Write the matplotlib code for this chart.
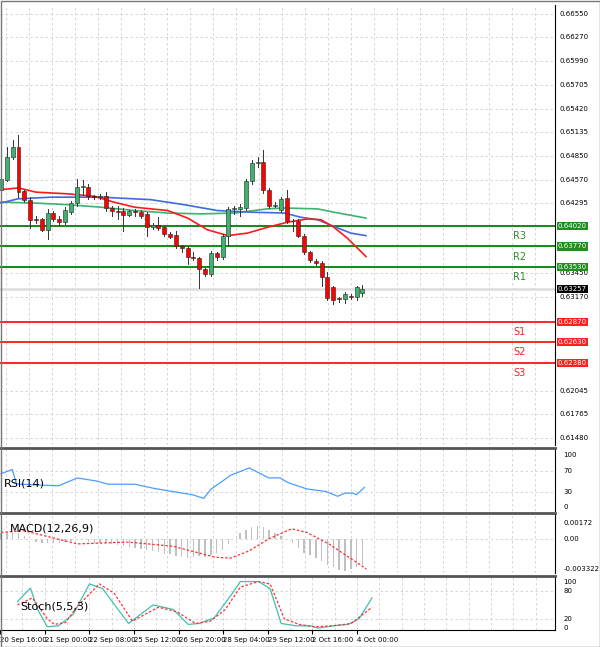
import numpy as np
import matplotlib.pyplot as plt
from matplotlib.patches import Rectangle

# candles: open, high, low, close
OPEN = [.6445, .6457, .6484, .6496, .6443, .6433, .6410, .6410, .6397, .6417,
        .6410, .6406, .6418, .6429, .6448, .6448, .6437, .6436, .6437, .6423,
        .6419, .6419, .6415, .6419, .6418, .6416, .6400, .6403, .6400, .6392,
        .6391, .6378, .6375, .6364, .6363, .6350, .6344, .6369, .6364, .6390,
        .6422, .6422, .6423, .6455, .6477, .6478, .6445, .6426, .6421, .6435,
        .6408, .6408, .6390, .6370, .6360, .6357, .6340, .6328, .6315, .6314,
        .6318, .6317, .6321]
HIGH = [.6447, .6496, .6504, .6510, .6445, .6436, .6414, .6411, .6422, .6420,
        .6413, .6424, .6431, .6458, .6456, .6452, .6439, .6440, .6442, .6425,
        .6426, .6423, .6421, .6422, .6421, .6418, .6405, .6412, .6402, .6394,
        .6396, .6379, .6377, .6370, .6364, .6351, .6372, .6371, .6392, .6424,
        .6426, .6428, .6458, .6480, .6484, .6492, .6447, .6430, .6436, .6444,
        .6410, .6410, .6392, .6372, .6362, .6360, .6346, .6330, .6317, .6322,
        .6320, .6330, .6331]
LOW = [.6442, .6455, .6482, .6436, .6430, .6399, .6405, .6396, .6386, .6408,
       .6403, .6404, .6416, .6426, .6438, .6434, .6434, .6434, .6420, .6413,
       .6410, .6396, .6413, .6413, .6411, .6389, .6398, .6397, .6390, .6387,
       .6375, .6370, .6356, .6361, .6327, .6342, .6342, .6361, .6362, .6378,
       .6416, .6414, .6421, .6452, .6472, .6441, .6423, .6424, .6418, .6405,
       .6395, .6388, .6368, .6358, .6355, .6330, .6313, .6308, .6311, .6310,
       .6314, .6313, .6318]
CLOSE = [.6458, .6484, .6496, .6442, .6433, .6409, .6409, .6397, .6417, .6410,
         .6406, .6421, .6429, .6448, .6449, .6437, .6436, .6437, .6423, .6419,
         .6418, .6415, .6419, .6418, .6414, .6400, .6403, .6399, .6392, .6388,
         .6377, .6375, .6364, .6363, .6350, .6344, .6369, .6364, .6390, .6422,
         .6423, .6424, .6455, .6477, .6478, .6445, .6425, .6427, .6434, .6407,
         .6407, .6390, .6370, .6361, .6357, .6340, .6315, .6313, .6314, .6320,
         .6317, .6328, .6326]

# moving averages read at candle positions
MA_RED_X = [0, 3, 6, 11.4, 16, 19.4, 22.9, 28.6, 32, 35.4, 38.9, 42.3, 45.7, 49.1, 52.6, 54.9, 57.1, 59.4, 62.6]
MA_RED_Y = [.6445, .6447, .6442, .6440, .6437, .6430, .6424, .6420, .6411, .6397, .6390, .6393, .6400, .6406, .6410, .6409, .6400, .6387, .6365]
MA_BLUE_X = [0, 2.9, 8.6, 17.1, 25.7, 31.4, 37.1, 42.9, 48.6, 51.4, 54.3, 57.1, 60, 62.6]
MA_BLUE_Y = [.6429, .6434, .6436, .6436, .6433, .6427, .6420, .6418, .6417, .6412, .6409, .6401, .6393, .6390]
MA_GRN_X = [0, 5.7, 11.4, 17.1, 22.9, 28.6, 34.3, 40, 45.7, 48.6, 54.3, 57.1, 62.6]
MA_GRN_Y = [.6430, .6429, .6427, .6424, .6420, .6417, .6416, .6417, .6422, .6423, .6422, .6418, .6411]

R_LEVELS = [0.64020, 0.63770, 0.63530]
R_NAMES = ['R3', 'R2', 'R1']
S_LEVELS = [0.62870, 0.62630, 0.62380]
S_NAMES = ['S1', 'S2', 'S3']
LAST = 0.63257
PRICE_TICKS = [0.66550, 0.66270, 0.65990, 0.65705, 0.65420, 0.65135, 0.64850,
               0.64570, 0.64295, 0.63450, 0.63170,
               0.62045, 0.61765, 0.61480]

RSI_X = [0, 1.95, 2.64, 3.33, 9.87, 13.09, 16.42, 18.37, 22.96, 26.29, 29.5, 32.83, 34.78,
         36.05, 38.0, 39.38, 42.59, 45.92, 47.87, 49.25, 52.46, 55.79, 57.74, 59.0, 60.38,
         60.96, 62.34]
RSI_Y = [64, 72, 45, 44, 41, 56, 50, 44, 44, 36, 30, 24, 17, 35, 50, 61, 75, 56, 56,
         47, 35, 30, 21, 27, 27, 24, 38]

MACD_HIST = [0.0006, 0.0007, 0.0008, 0.0006, 0.0003, 0.0000, -0.0003, -0.0005, -0.0005, -0.0004,
             -0.0004, -0.0003, -0.0002, 0.0000, -0.0001, -0.0003, -0.0004, -0.0004, -0.0005, -0.0006,
             -0.0007, -0.0008, -0.0009, -0.0010, -0.0011, -0.0012, -0.0013, -0.0014, -0.0016, -0.0017,
             -0.0019, -0.0020, -0.0021, -0.0020, -0.0019, -0.0020, -0.0018, -0.0015, -0.0012, -0.0006,
             0.0000, 0.0006, 0.0010, 0.0013, 0.0014, 0.0013, 0.0010, 0.0006, 0.0003, 0.0000,
             -0.0005, -0.0010, -0.0015, -0.0018, -0.0021, -0.0024, -0.0028, -0.0031, -0.0034, -0.0035,
             -0.0033, -0.0031, -0.0029]
SIG_X = [0, 3.9, 13.09, 21.7, 29.5, 36.74, 39.38, 42.59, 45.92, 49.82, 52.46, 56.37, 60.38, 62.68]
SIG_Y = [0.0007, 0.0009, -0.00055, -0.00035, -0.0008, -0.0020, -0.0021, -0.0013, 0.0,
         0.0011, 0.0007, -0.0006, -0.0023, -0.0033]

ST_X = [0, 2.3, 3.56, 5.28, 7.23, 9.87, 12.74, 15.04, 19.63, 23.99, 27.55, 30.19, 32.14,
        34.78, 38.0, 39.38, 42.59, 44.66, 46.61, 49.25, 51.77, 53.15, 55.79, 58.43, 60.38, 62.68]
ST_Y = [57, 86, 40, 3, 5, 30, 95, 85, 10, 50, 40, 8, 10, 22, 75, 100, 100, 85, 10, 5,
        5, 0, 5, 8, 20, 65]
SS_X = [0, 2.64, 5.28, 6.54, 8.5, 10.45, 14.46, 17.1, 20.32, 24.91, 28.24, 31.46, 34.1,
        36.74, 39.38, 42.59, 44.66, 47.18, 49.82, 52.46, 55.79, 59.0, 62.68]
SS_Y = [50, 65, 20, 8, 12, 45, 95, 75, 15, 45, 35, 10, 15, 40, 88, 100, 95, 20, 8, 3,
        5, 10, 45]

XLABELS = ['20 Sep 16:00', '21 Sep 00:00', '22 Sep 08:00', '25 Sep 12:00', '26 Sep 20:00',
           '28 Sep 04:00', '29 Sep 12:00', '2 Oct 16:00', '4 Oct 00:00']

PX = 5.83  # pixels per candle
W, H = 600, 647
fig = plt.figure(figsize=(6.0, 6.47), dpi=100)
fig.patch.set_facecolor('white')


def px_axes(x0, y0, x1, y1):
    return fig.add_axes([x0 / W, 1 - y1 / H, (x1 - x0) / W, (y1 - y0) / H])


ax_left, ax_right = 0, 555
xlim = (-1 / PX, (ax_right - 1) / PX)
tick_px = [-17 + 46 * i for i in range(len(XLABELS))]
tick_x = [(p - 1) / PX for p in tick_px]
grid_x = [(p - 1) / PX for p in range(6, 560, 23)]

price_to_y = lambda p: 0.66718 - 0.0001196 * p
main = px_axes(ax_left, 5, ax_right, 445)
main.set_xlim(*xlim)
main.set_ylim(price_to_y(445), price_to_y(5))
rsi = px_axes(ax_left, 448, ax_right, 511)
macd = px_axes(ax_left, 513, ax_right, 573)
stoch = px_axes(ax_left, 576, ax_right, 630)
rsi.set_ylim(-7, 113)
macd.set_ylim(-0.00372, 0.00282)
stoch.set_ylim(-4, 112)

for ax in (main, rsi, macd, stoch):
    ax.set_xlim(*xlim)
    ax.set_xticks([])
    ax.set_yticks([])
    for s in ('left', 'top', 'bottom'):
        ax.spines[s].set_visible(False)
    ax.spines['right'].set_color('black')
    for g in grid_x:
        ax.axvline(g, color='#d0d0d0', lw=0.6, ls=(0, (3, 3)), zorder=0)
for ax in (rsi, macd, stoch):
    ax.spines['top'].set_visible(True)
    ax.spines['top'].set_color('#555555')
    ax.spines['top'].set_linewidth(2)

# main price grid and ticks
for p in PRICE_TICKS:
    main.axhline(p, color='#d0d0d0', lw=0.6, ls=(0, (3, 3)), zorder=0)
    main.text(1.008, p, '%.5f' % p, transform=main.get_yaxis_transform(),
              fontsize=5, va='center', ha='left')
main.axhline(LAST, color='#e0e0e0', lw=2, zorder=0)

# moving averages
main.plot(MA_GRN_X, MA_GRN_Y, color='#3cb371', lw=1.2, zorder=2)
main.plot(MA_BLUE_X, MA_BLUE_Y, color='#4169e1', lw=1.2, zorder=2)
main.plot(MA_RED_X, MA_RED_Y, color='#ff1a1a', lw=1.2, zorder=2)

# candles
bw = 0.68
for i, (o, h, l, c) in enumerate(zip(OPEN, HIGH, LOW, CLOSE)):
    main.plot([i, i], [l, h], color='#333333', lw=0.7, zorder=3)
    col = '#3cb371' if c >= o else '#ff0000'
    main.add_patch(Rectangle((i - bw / 2, min(o, c)), bw, max(abs(c - o), 0.00003),
                             facecolor=col, edgecolor='#222222', lw=0.4, zorder=4))

# levels
tr = main.get_yaxis_transform()
for lev in R_LEVELS:
    main.axhline(lev, color='#008000', lw=1.3, zorder=1)
    main.text(1.005, lev, '%.5f' % lev, transform=tr, fontsize=5, color='white', va='center',
              bbox=dict(boxstyle='square,pad=0.15', fc='#1f8f1f', ec='none'), zorder=6)
for lev in S_LEVELS:
    main.axhline(lev, color='#ff0000', lw=1.2, zorder=1)
    main.text(1.005, lev, '%.5f' % lev, transform=tr, fontsize=5, color='white', va='center',
              bbox=dict(boxstyle='square,pad=0.15', fc='#ff2020', ec='none'), zorder=6)
r_mid = [(R_LEVELS[0] + R_LEVELS[1]) / 2, (R_LEVELS[1] + R_LEVELS[2]) / 2, R_LEVELS[2] - 0.00125]
for y, name in zip(r_mid, R_NAMES):
    main.text(89, y, name, fontsize=7, color='#2e8b2e', ha='center', va='center')
s_mid = [(S_LEVELS[0] + S_LEVELS[1]) / 2, (S_LEVELS[1] + S_LEVELS[2]) / 2, S_LEVELS[2] - 0.00125]
for y, name in zip(s_mid, S_NAMES):
    main.text(89, y, name, fontsize=7, color='#ff2020', ha='center', va='center')
main.text(1.005, LAST, '%.5f' % LAST, transform=tr, fontsize=5, color='white', va='center',
          bbox=dict(boxstyle='square,pad=0.15', fc='black', ec='none'), zorder=6)

# RSI
for v in (70, 30):
    rsi.axhline(v, color='#d0d0d0', lw=0.6, ls=(0, (3, 3)), zorder=0)
rsi.plot(RSI_X, RSI_Y, color='#4a9eff', lw=0.9)
rsi.text(0.5, 45, 'RSI(14)', fontsize=8, va='center')
for v in (100, 70, 30, 0):
    rsi.text(1.015, v, str(v), transform=rsi.get_yaxis_transform(), fontsize=5, va='center')

# MACD
macd.axhline(0, color='#d0d0d0', lw=0.6, ls=(0, (3, 3)), zorder=0)
macd.bar(range(len(MACD_HIST)), MACD_HIST, width=0.25, color='#c0c0c0')
macd.plot(SIG_X, SIG_Y, color='#ff3030', lw=0.9, ls=(0, (2, 1.5)))
macd.text(1.5, 0.0011, 'MACD(12,26,9)', fontsize=8, va='center')
for v, t in ((0.00172, '0.00172'), (0.0, '0.00'), (-0.003322, '-0.003322')):
    macd.text(1.015, v, t, transform=macd.get_yaxis_transform(), fontsize=5, va='center')

# Stoch
for v in (80, 20):
    stoch.axhline(v, color='#d0d0d0', lw=0.6, ls=(0, (3, 3)), zorder=0)
stoch.plot(ST_X, ST_Y, color='#40c0b0', lw=0.9)
stoch.plot(SS_X, SS_Y, color='#ff3030', lw=0.9, ls=(0, (2, 1.5)))
stoch.text(0.5, 47, 'Stoch(5,5,3)', fontsize=8, va='center')
for v in (100, 80, 20, 0):
    stoch.text(1.015, v, str(v), transform=stoch.get_yaxis_transform(), fontsize=5, va='center')

# time labels
stoch.set_xticks(tick_x)
stoch.set_xticklabels(XLABELS, fontsize=5, ha='left')
stoch.tick_params(axis='x', length=3, pad=2)
stoch.spines['bottom'].set_visible(True)

fig.add_artist(plt.Rectangle((0.5 / W, 0.5 / H), 1 - 1 / W, 1 - 1 / H, transform=fig.transFigure,
                             fill=False, ec='#777777', lw=1))
fig.savefig('out.png', dpi=100)
